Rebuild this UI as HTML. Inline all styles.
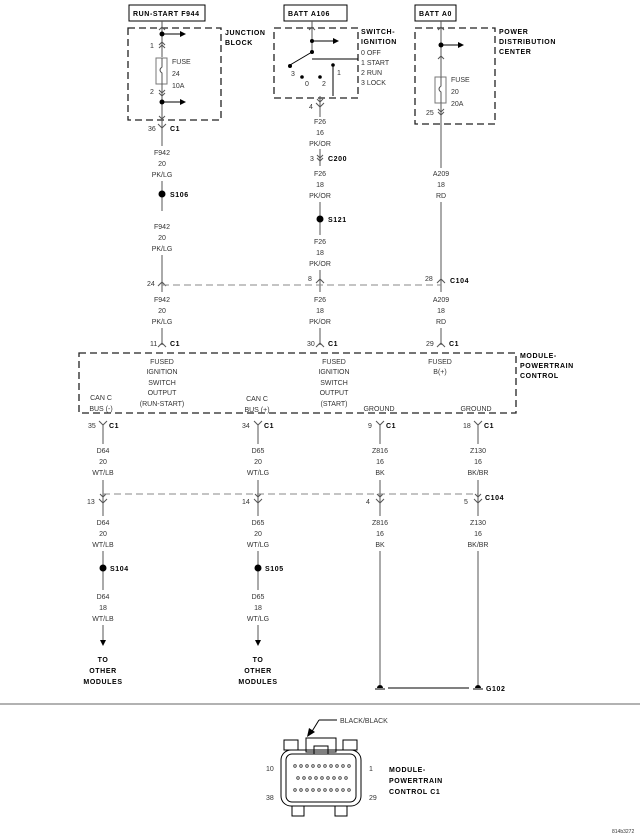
<!DOCTYPE html>
<html><head><meta charset="utf-8"><style>
html,body{margin:0;padding:0;background:#fff;}
svg{display:block;}
.t{font-family:"Liberation Sans Narrow","Liberation Sans",sans-serif;font-size:7px;fill:#333;text-anchor:middle;}
.l{font-family:"Liberation Sans Narrow","Liberation Sans",sans-serif;font-size:7px;fill:#333;}
.b{font-family:"Liberation Sans",sans-serif;font-size:7px;font-weight:bold;fill:#000;letter-spacing:0.6px;}
.bc{font-family:"Liberation Sans",sans-serif;font-size:7px;font-weight:bold;fill:#000;letter-spacing:0.6px;text-anchor:middle;}
.w{stroke:#555;stroke-width:1;fill:none;}
.k{stroke:#000;stroke-width:1;fill:none;}
.d{stroke:#222;stroke-width:1.3;fill:none;stroke-dasharray:7,4;}
.dg{stroke:#888;stroke-width:1;fill:none;stroke-dasharray:7,4;}
</style></head><body>
<svg width="640" height="838" viewBox="0 0 640 838" xmlns="http://www.w3.org/2000/svg">
<!-- top label boxes -->
<rect x="129" y="5" width="76" height="16" fill="#fff" stroke="#000"/>
<text class="b" x="133" y="16">RUN-START F944</text>
<rect x="284" y="5" width="63" height="16" fill="#fff" stroke="#000"/>
<text class="b" x="288" y="16">BATT A106</text>
<rect x="415" y="5" width="41" height="16" fill="#fff" stroke="#000"/>
<text class="b" x="419" y="16">BATT A0</text>

<!-- Junction block -->
<rect x="128" y="28" width="93" height="92" class="d"/>
<text class="b" x="225" y="35">JUNCTION</text>
<text class="b" x="225" y="45">BLOCK</text>
<line x1="162" y1="21" x2="162" y2="57" class="w"/>
<path d="M159,30 L162,27 L165,30" class="w"/>
<circle cx="162" cy="34" r="2.5" fill="#000"/>
<line x1="162" y1="34" x2="180" y2="34" class="k"/><path d="M180,31 L186,34 L180,37Z" fill="#000"/>
<text class="l" x="150" y="48">1</text>
<path d="M159,45 L162,42 L165,45 M159,48 L162,45 L165,48" class="w"/>
<rect x="156" y="58" width="11" height="26" fill="#fff" stroke="#777"/>
<path d="M162,58 L162,67 Q158,70 162,73 L162,84" class="w"/>
<text class="l" x="172" y="64">FUSE</text><text class="l" x="172" y="76">24</text><text class="l" x="172" y="88">10A</text>
<line x1="162" y1="84" x2="162" y2="133" class="w"/>
<text class="l" x="150" y="94">2</text>
<path d="M159,90 L162,93 L165,90 M159,93 L162,96 L165,93" class="w"/>
<circle cx="162" cy="102" r="2.5" fill="#000"/>
<line x1="162" y1="102" x2="180" y2="102" class="k"/><path d="M180,99 L186,102 L180,105Z" fill="#000"/>
<path d="M159,116 L162,119 L165,116" class="w"/>
<text class="l" x="148" y="131">36</text>
<path d="M158,124 L162,128 L166,124" class="w"/>
<text class="b" x="170" y="131">C1</text>

<!-- ignition switch -->
<rect x="274" y="28" width="84" height="70" class="d"/>
<text class="b" x="361" y="34">SWITCH-</text>
<text class="b" x="361" y="44">IGNITION</text>
<text class="l" x="361" y="55">0 OFF</text>
<text class="l" x="361" y="65">1 START</text>
<text class="l" x="361" y="75">2 RUN</text>
<text class="l" x="361" y="85">3 LOCK</text>
<line x1="312" y1="21" x2="312" y2="52" class="w"/>
<path d="M309,30 L312,27 L315,30" class="w"/>
<circle cx="312" cy="41" r="2" fill="#000"/>
<line x1="312" y1="41" x2="333" y2="41" class="k"/><path d="M333,38 L339,41 L333,44Z" fill="#000"/>
<circle cx="312" cy="52" r="2" fill="#000"/>
<line x1="312" y1="52" x2="290" y2="65" class="k"/>
<circle cx="290" cy="66" r="2" fill="#000"/>
<line x1="312" y1="59" x2="358" y2="59" class="k"/>
<text class="l" x="291" y="76">3</text>
<circle cx="302" cy="77" r="1.8" fill="#000"/><text class="l" x="305" y="86">0</text>
<circle cx="320" cy="77" r="1.8" fill="#000"/><text class="l" x="322" y="86">2</text>
<line x1="333" y1="65" x2="333" y2="96" class="k"/>
<circle cx="333" cy="65" r="1.8" fill="#000"/>
<text class="l" x="337" y="75">1</text>
<line x1="320" y1="96" x2="320" y2="117" class="w"/>
<path d="M317,99 L320,102 L323,99" class="w"/>
<text class="l" x="309" y="109">4</text>
<path d="M316,103 L320,107 L324,103" class="w"/>

<!-- PDC -->
<rect x="415" y="28" width="80" height="96" class="d"/>
<text class="b" x="499" y="34">POWER</text>
<text class="b" x="499" y="44">DISTRIBUTION</text>
<text class="b" x="499" y="54">CENTER</text>
<line x1="441" y1="21" x2="441" y2="168" class="w"/>
<path d="M438,30 L441,27 L444,30" class="w"/>
<circle cx="441" cy="45" r="2.5" fill="#000"/>
<line x1="441" y1="45" x2="458" y2="45" class="k"/><path d="M458,42 L464,45 L458,48Z" fill="#000"/>
<path d="M438,59 L441,56 L444,59" class="w"/>
<rect x="435" y="77" width="11" height="26" fill="#fff" stroke="#777"/>
<path d="M441,77 L441,86 Q437,89 441,92 L441,103" class="w"/>
<text class="l" x="451" y="82">FUSE</text><text class="l" x="451" y="94">20</text><text class="l" x="451" y="106">20A</text>
<text class="l" x="426" y="115">25</text>
<path d="M438,109 L441,112 L444,109 M438,112 L441,115 L444,112" class="w"/>

<!-- column 162 -->
<line x1="162" y1="128" x2="162" y2="146" class="w"/>
<text class="t" x="162" y="155">F942</text><text class="t" x="162" y="166">20</text><text class="t" x="162" y="177">PK/LG</text>
<line x1="162" y1="181" x2="162" y2="211" class="w"/>
<circle cx="162" cy="194" r="3.5" fill="#000"/>
<text class="b" x="170" y="197">S106</text>
<text class="t" x="162" y="229">F942</text><text class="t" x="162" y="240">20</text><text class="t" x="162" y="251">PK/LG</text>
<line x1="162" y1="255" x2="162" y2="292" class="w"/>
<path d="M158,286 L162,282 L166,286" class="w"/>
<text class="l" x="147" y="286">24</text>
<text class="t" x="162" y="302">F942</text><text class="t" x="162" y="313">20</text><text class="t" x="162" y="324">PK/LG</text>
<line x1="162" y1="328" x2="162" y2="345" class="w"/>
<path d="M158,347 L162,343 L166,347" class="w"/>
<text class="l" x="150" y="346">11</text><text class="b" x="170" y="346">C1</text>

<!-- column 320 -->
<text class="t" x="320" y="124">F26</text><text class="t" x="320" y="135">16</text><text class="t" x="320" y="146">PK/OR</text>
<line x1="320" y1="149" x2="320" y2="166" class="w"/>
<path d="M317,155 L320,158 L323,155 M317,158 L320,161 L323,158" class="w"/>
<text class="l" x="310" y="161">3</text><text class="b" x="328" y="161">C200</text>
<text class="t" x="320" y="176">F26</text><text class="t" x="320" y="187">18</text><text class="t" x="320" y="198">PK/OR</text>
<line x1="320" y1="202" x2="320" y2="235" class="w"/>
<circle cx="320" cy="219" r="3.5" fill="#000"/>
<text class="b" x="328" y="222">S121</text>
<text class="t" x="320" y="244">F26</text><text class="t" x="320" y="255">18</text><text class="t" x="320" y="266">PK/OR</text>
<line x1="320" y1="270" x2="320" y2="292" class="w"/>
<path d="M316,283 L320,279 L324,283" class="w"/>
<text class="l" x="308" y="281">8</text>
<text class="t" x="320" y="302">F26</text><text class="t" x="320" y="313">18</text><text class="t" x="320" y="324">PK/OR</text>
<line x1="320" y1="328" x2="320" y2="345" class="w"/>
<path d="M316,347 L320,343 L324,347" class="w"/>
<text class="l" x="307" y="346">30</text><text class="b" x="328" y="346">C1</text>

<!-- column 441 -->
<text class="t" x="441" y="176">A209</text><text class="t" x="441" y="187">18</text><text class="t" x="441" y="198">RD</text>
<line x1="441" y1="202" x2="441" y2="292" class="w"/>
<path d="M437,283 L441,279 L445,283" class="w"/>
<text class="l" x="425" y="281">28</text><text class="b" x="450" y="283">C104</text>
<text class="t" x="441" y="302">A209</text><text class="t" x="441" y="313">18</text><text class="t" x="441" y="324">RD</text>
<line x1="441" y1="328" x2="441" y2="345" class="w"/>
<path d="M437,347 L441,343 L445,347" class="w"/>
<text class="l" x="426" y="346">29</text><text class="b" x="449" y="346">C1</text>

<line x1="162" y1="285" x2="441" y2="285" class="dg"/>

<!-- module box -->
<rect x="79" y="353" width="437" height="60" class="d"/>
<text class="b" x="520" y="358">MODULE-</text>
<text class="b" x="520" y="368">POWERTRAIN</text>
<text class="b" x="520" y="378">CONTROL</text>
<text class="t" x="162" y="364">FUSED</text><text class="t" x="162" y="374">IGNITION</text><text class="t" x="162" y="385">SWITCH</text><text class="t" x="162" y="395">OUTPUT</text><text class="t" x="162" y="406">(RUN-START)</text>
<text class="t" x="334" y="364">FUSED</text><text class="t" x="334" y="374">IGNITION</text><text class="t" x="334" y="385">SWITCH</text><text class="t" x="334" y="395">OUTPUT</text><text class="t" x="334" y="406">(START)</text>
<text class="t" x="440" y="364">FUSED</text><text class="t" x="440" y="374">B(+)</text>
<text class="t" x="101" y="400">CAN C</text><text class="t" x="101" y="411">BUS (-)</text>
<text class="t" x="257" y="401">CAN C</text><text class="t" x="257" y="412">BUS (+)</text>
<text class="t" x="379" y="411">GROUND</text>
<text class="t" x="476" y="411">GROUND</text>

<!-- lower columns -->
<g>
<path d="M99,421 L103,425 L107,421" class="w"/><line x1="103" y1="425" x2="103" y2="444" class="w"/>
<text class="l" x="88" y="428">35</text><text class="b" x="109" y="428">C1</text>
<text class="t" x="103" y="453">D64</text><text class="t" x="103" y="464">20</text><text class="t" x="103" y="475">WT/LB</text>
<line x1="103" y1="480" x2="103" y2="516" class="w"/>
<path d="M100,494 L103,497 L106,494 M99,499 L103,503 L107,499" class="w"/>
<text class="l" x="87" y="504">13</text>
<text class="t" x="103" y="525">D64</text><text class="t" x="103" y="536">20</text><text class="t" x="103" y="547">WT/LB</text>
<line x1="103" y1="551" x2="103" y2="590" class="w"/>
<circle cx="103" cy="568" r="3.5" fill="#000"/><text class="b" x="110" y="571">S104</text>
<text class="t" x="103" y="599">D64</text><text class="t" x="103" y="610">18</text><text class="t" x="103" y="621">WT/LB</text>
<line x1="103" y1="625" x2="103" y2="640" class="w"/><path d="M100,640 L106,640 L103,646Z" fill="#000"/>
<text class="bc" x="103" y="662">TO</text><text class="bc" x="103" y="673">OTHER</text><text class="bc" x="103" y="684">MODULES</text>
</g>
<g>
<path d="M254,421 L258,425 L262,421" class="w"/><line x1="258" y1="425" x2="258" y2="444" class="w"/>
<text class="l" x="242" y="428">34</text><text class="b" x="264" y="428">C1</text>
<text class="t" x="258" y="453">D65</text><text class="t" x="258" y="464">20</text><text class="t" x="258" y="475">WT/LG</text>
<line x1="258" y1="480" x2="258" y2="516" class="w"/>
<path d="M255,494 L258,497 L261,494 M254,499 L258,503 L262,499" class="w"/>
<text class="l" x="242" y="504">14</text>
<text class="t" x="258" y="525">D65</text><text class="t" x="258" y="536">20</text><text class="t" x="258" y="547">WT/LG</text>
<line x1="258" y1="551" x2="258" y2="590" class="w"/>
<circle cx="258" cy="568" r="3.5" fill="#000"/><text class="b" x="265" y="571">S105</text>
<text class="t" x="258" y="599">D65</text><text class="t" x="258" y="610">18</text><text class="t" x="258" y="621">WT/LG</text>
<line x1="258" y1="625" x2="258" y2="640" class="w"/><path d="M255,640 L261,640 L258,646Z" fill="#000"/>
<text class="bc" x="258" y="662">TO</text><text class="bc" x="258" y="673">OTHER</text><text class="bc" x="258" y="684">MODULES</text>
</g>
<g>
<path d="M376,421 L380,425 L384,421" class="w"/><line x1="380" y1="425" x2="380" y2="444" class="w"/>
<text class="l" x="368" y="428">9</text><text class="b" x="386" y="428">C1</text>
<text class="t" x="380" y="453">Z816</text><text class="t" x="380" y="464">16</text><text class="t" x="380" y="475">BK</text>
<line x1="380" y1="480" x2="380" y2="516" class="w"/>
<path d="M377,494 L380,497 L383,494 M376,499 L380,503 L384,499" class="w"/>
<text class="l" x="366" y="504">4</text>
<text class="t" x="380" y="525">Z816</text><text class="t" x="380" y="536">16</text><text class="t" x="380" y="547">BK</text>
<line x1="380" y1="551" x2="380" y2="685" class="w"/>
</g>
<g>
<path d="M474,421 L478,425 L482,421" class="w"/><line x1="478" y1="425" x2="478" y2="444" class="w"/>
<text class="l" x="463" y="428">18</text><text class="b" x="484" y="428">C1</text>
<text class="t" x="478" y="453">Z130</text><text class="t" x="478" y="464">16</text><text class="t" x="478" y="475">BK/BR</text>
<line x1="478" y1="480" x2="478" y2="516" class="w"/>
<path d="M475,494 L478,497 L481,494 M474,499 L478,503 L482,499" class="w"/>
<text class="l" x="464" y="504">5</text><text class="b" x="485" y="500">C104</text>
<text class="t" x="478" y="525">Z130</text><text class="t" x="478" y="536">16</text><text class="t" x="478" y="547">BK/BR</text>
<line x1="478" y1="551" x2="478" y2="685" class="w"/>
</g>
<line x1="103" y1="494" x2="478" y2="494" class="dg"/>
<!-- ground -->
<path d="M377,688 A3,3 0 0 1 383,688Z" fill="#000"/><line x1="375" y1="689" x2="385" y2="689" class="k"/>
<path d="M475,688 A3,3 0 0 1 481,688Z" fill="#000"/><line x1="473" y1="689" x2="483" y2="689" class="k"/>
<line x1="388" y1="688" x2="469" y2="688" class="k"/>
<text class="b" x="486" y="691">G102</text>

<line x1="0" y1="704" x2="640" y2="704" stroke="#999" stroke-width="1.5"/>

<!-- connector -->
<text class="l" x="340" y="723">BLACK/BLACK</text>
<line x1="337" y1="720" x2="319" y2="720" class="k"/>
<line x1="319" y1="720" x2="311" y2="733" class="k"/>
<path d="M307,737 L309,728 L315,732Z" fill="#000"/>
<g fill="none" stroke="#000" stroke-width="1">
<rect x="284" y="740" width="14" height="10"/>
<rect x="343" y="740" width="14" height="10"/>
<rect x="306" y="738" width="30" height="14"/>
<rect x="314" y="746" width="14" height="8"/>
<rect x="281" y="750" width="80" height="56" rx="10"/>
<rect x="286" y="754" width="70" height="48" rx="6"/>
<rect x="292" y="806" width="12" height="10"/>
<rect x="335" y="806" width="12" height="10"/>
</g>
<g fill="#fff" stroke="#333" stroke-width="0.8">
<circle cx="295" cy="766" r="1.3"/><circle cx="301" cy="766" r="1.3"/><circle cx="307" cy="766" r="1.3"/><circle cx="313" cy="766" r="1.3"/><circle cx="319" cy="766" r="1.3"/><circle cx="325" cy="766" r="1.3"/><circle cx="331" cy="766" r="1.3"/><circle cx="337" cy="766" r="1.3"/><circle cx="343" cy="766" r="1.3"/><circle cx="349" cy="766" r="1.3"/>
<circle cx="298" cy="778" r="1.3"/><circle cx="304" cy="778" r="1.3"/><circle cx="310" cy="778" r="1.3"/><circle cx="316" cy="778" r="1.3"/><circle cx="322" cy="778" r="1.3"/><circle cx="328" cy="778" r="1.3"/><circle cx="334" cy="778" r="1.3"/><circle cx="340" cy="778" r="1.3"/><circle cx="346" cy="778" r="1.3"/>
<circle cx="295" cy="790" r="1.3"/><circle cx="301" cy="790" r="1.3"/><circle cx="307" cy="790" r="1.3"/><circle cx="313" cy="790" r="1.3"/><circle cx="319" cy="790" r="1.3"/><circle cx="325" cy="790" r="1.3"/><circle cx="331" cy="790" r="1.3"/><circle cx="337" cy="790" r="1.3"/><circle cx="343" cy="790" r="1.3"/><circle cx="349" cy="790" r="1.3"/>
</g>
<text class="l" x="266" y="771">10</text><text class="l" x="369" y="771">1</text>
<text class="l" x="266" y="800">38</text><text class="l" x="369" y="800">29</text>
<text class="b" x="389" y="772">MODULE-</text>
<text class="b" x="389" y="783">POWERTRAIN</text>
<text class="b" x="389" y="794">CONTROL C1</text>
<text class="l" x="612" y="833" style="font-size:5px">814b3272</text>
</svg>
</body></html>
